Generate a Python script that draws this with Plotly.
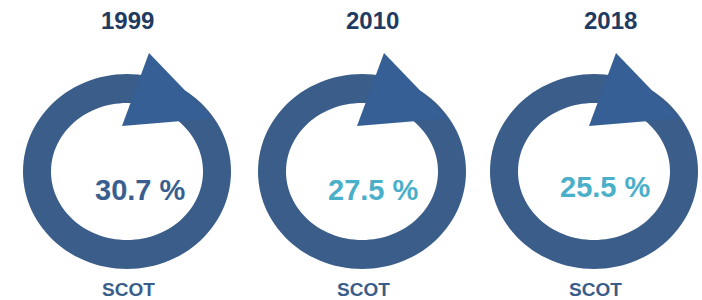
import numpy as np
import plotly.graph_objects as go

# ---- data ----
years = ["1999", "2010", "2018"]
shares = [30.7, 27.5, 25.5]
regions = ["SCOT", "SCOT", "SCOT"]

# ---- layout / style (pixel coordinates on a 702x300 canvas) ----
W, H = 702, 300
ring_cx = [127, 362, 594]
ring_cy = 171.5
outer_rx, outer_ry = 104, 97.5
inner_rx, inner_ry = 76, 68.5
year_dx = [0, 10, 16]
pct_dx = [13, 11, 11]
pct_y = [189.5, 189.5, 186.5]
ring_color = "#3a5d8a"
head_color = "#365f95"
year_color = "#1f3b61"
label_color = "#3a5d8a"
pct_colors = ["#3a5f8f", "#4aafc8", "#4aafc8"]
FONT = "Liberation Sans, Arial, sans-serif"


def ellipse_path(cx, cy, rx, ry, reverse=False, n=120):
    t = np.linspace(0, 2 * np.pi, n, endpoint=False)
    if reverse:
        t = t[::-1]
    pts = [f"{cx + rx*np.cos(a):.2f},{cy + ry*np.sin(a):.2f}" for a in t]
    return "M" + " L".join(pts) + " Z"


fig = go.Figure()
shapes = []
annotations = []
for i, (yr, val, reg) in enumerate(zip(years, shares, regions)):
    cx = ring_cx[i]
    path = ellipse_path(cx, ring_cy, outer_rx, outer_ry) + " " + \
        ellipse_path(cx, ring_cy, inner_rx, inner_ry, reverse=True)
    shapes.append(dict(type="path", xref="x", yref="y", path=path,
                       fillcolor=ring_color, line=dict(width=0), layer="below"))
    tri = (f"M{cx+22},{ring_cy-118.5} L{cx+85},{ring_cy-53} "
           f"L{cx-5},{ring_cy-45.5} Z")
    shapes.append(dict(type="path", xref="x", yref="y", path=tri,
                       fillcolor=head_color, line=dict(width=0), layer="below"))
    annotations.append(dict(x=cx + year_dx[i], y=20.5, text=f"<b>{yr}</b>",
                            showarrow=False, xref="x", yref="y",
                            font=dict(family=FONT, size=24, color=year_color)))
    annotations.append(dict(x=cx + pct_dx[i], y=pct_y[i], text=f"<b>{val:.1f} %</b>",
                            showarrow=False, xref="x", yref="y",
                            font=dict(family=FONT, size=29, color=pct_colors[i])))
    annotations.append(dict(x=cx + 1, y=289, text=f"<b>{reg}</b>",
                            showarrow=False, xref="x", yref="y",
                            font=dict(family=FONT, size=19, color=label_color)))

# invisible anchor trace so the axes exist
fig.add_trace(go.Scatter(x=[0, W], y=[0, H], mode="markers",
                         marker=dict(opacity=0), hoverinfo="skip", showlegend=False))

fig.update_layout(
    width=W, height=H, margin=dict(l=0, r=0, t=0, b=0),
    paper_bgcolor="white", plot_bgcolor="white",
    xaxis=dict(range=[0, W], visible=False, fixedrange=True),
    yaxis=dict(range=[H, 0], visible=False, fixedrange=True),
    shapes=shapes, annotations=annotations, showlegend=False,
)
fig.write_html("out.html", config={"displayModeBar": False},
               post_script="document.body.style.margin='0';document.body.style.overflow='hidden';")
